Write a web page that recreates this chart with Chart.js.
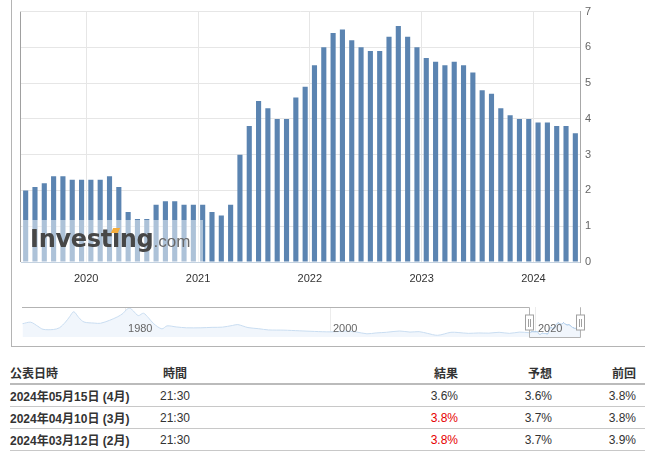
<!DOCTYPE html>
<html>
<head>
<meta charset="utf-8">
<script src="https://cdn.jsdelivr.net/npm/chart.js@4.4.1/dist/chart.umd.min.js"></script>
<style>
  body { margin: 0; background: #fff; font-family: "Liberation Sans", Arial, "Noto Sans CJK JP", sans-serif; color: #333; }
  #wrap { position: relative; width: 645px; height: 452px; overflow: hidden; }
  #frame { position: absolute; left: 11px; top: -2px; width: 700px; height: 348px; border-left: 1px solid #b4b4b4; border-bottom: 1px solid #b4b4b4; }
  #main { position: absolute; left: 0; top: 0; }
  #nav { position: absolute; left: 0; top: 300px; }
  #logo { position: absolute; left: 22px; top: 220px; width: 181px; height: 42px; background: rgba(255,255,255,0.5); }
  #logo .txt { position: absolute; left: 8px; top: 5px; white-space: nowrap; line-height: 28px; }
  #logo .big { font: bold 24px "DejaVu Sans"; color: #474747; letter-spacing: -0.3px; }
  #logo .com { font: 17px "Liberation Sans"; color: #6a6a6a; }
  #logo .dot { position: absolute; left: 90px; top: 8px; width: 7px; height: 5px; background: #f6ad3c; transform: skewX(-25deg); }
  #tbl { position: absolute; left: 10px; top: 361px; width: 635px; border-collapse: collapse; table-layout: fixed; font-size: 12px; }
  #tbl th { font-weight: bold; height: 22px; padding: 0; text-align: left; border-bottom: 2px solid #bbb; }
  #tbl th.t { padding-left: 3px; }
  #tbl td { height: 21px; padding: 0; border-bottom: 1px solid #c8c8c8; }
  #tbl .r { text-align: right; }
  #tbl .last { padding-right: 9px; }
  #tbl td.date { font-weight: bold; }
  #tbl .up { color: #e60000; }
</style>
</head>
<body>
<div id="wrap">
  <div id="frame"></div>
  <canvas id="main" width="645" height="290"></canvas>
  <div id="logo"><div class="txt"><span class="big">Investing</span><span class="com">.com</span></div><span class="dot"></span></div>
  <canvas id="nav" width="645" height="46"></canvas>
  <table id="tbl">
    <colgroup><col style="width:150px"><col style="width:150px"><col style="width:148px"><col style="width:94px"><col style="width:93px"></colgroup>
    <thead><tr><th>公表日時</th><th class="t">時間</th><th class="r">結果</th><th class="r">予想</th><th class="r last">前回</th></tr></thead>
    <tbody id="rows"></tbody>
  </table>
</div>
<script>
// release months (x categories), one row per release year
const releaseMonths = [
  "2019-06", "2019-07", "2019-08", "2019-09", "2019-10", "2019-11", "2019-12",
  "2020-01", "2020-02", "2020-03", "2020-04", "2020-05", "2020-06", "2020-07", "2020-08", "2020-09", "2020-10", "2020-11", "2020-12",
  "2021-01", "2021-02", "2021-03", "2021-04", "2021-05", "2021-06", "2021-07", "2021-08", "2021-09", "2021-10", "2021-11", "2021-12",
  "2022-01", "2022-02", "2022-03", "2022-04", "2022-05", "2022-06", "2022-07", "2022-08", "2022-09", "2022-10", "2022-11", "2022-12",
  "2023-01", "2023-02", "2023-03", "2023-04", "2023-05", "2023-06", "2023-07", "2023-08", "2023-09", "2023-10", "2023-11", "2023-12",
  "2024-01", "2024-02", "2024-03", "2024-04", "2024-05"
];
// core CPI y/y (%), same rows as above
const coreCpi = [
  2.0, 2.1, 2.2, 2.4, 2.4, 2.3, 2.3,
  2.3, 2.3, 2.4, 2.1, 1.4, 1.2, 1.2, 1.6, 1.7, 1.7, 1.6, 1.6,
  1.6, 1.4, 1.3, 1.6, 3.0, 3.8, 4.5, 4.3, 4.0, 4.0, 4.6, 4.9,
  5.5, 6.0, 6.4, 6.5, 6.2, 6.0, 5.9, 5.9, 6.3, 6.6, 6.3, 6.0,
  5.7, 5.6, 5.5, 5.6, 5.5, 5.3, 4.8, 4.7, 4.3, 4.1, 4.0, 4.0,
  3.9, 3.9, 3.8, 3.8, 3.6
];
const yearTicks = ["2020", "2021", "2022", "2023", "2024"];
const yTicks = [0, 1, 2, 3, 4, 5, 6, 7];

// navigator (long history)
const navYears = [
  1970.0, 1970.8, 1971.5, 1972.0, 1973.0, 1973.6, 1974.2, 1974.6, 1975.0, 1975.5, 1976.0, 1977.0, 1977.6,
  1978.5, 1979.3, 1979.8, 1980.2, 1980.5, 1980.8, 1981.3, 1981.8, 1982.3, 1982.8, 1983.6, 1984.1, 1985.0,
  1986.0, 1987.4, 1988.5, 1989.5, 1990.5, 1991.0, 1992.0, 1993.0, 1994.0, 1995.5, 1997.0, 1998.5, 2000.0,
  2001.5, 2002.5, 2003.6, 2004.5, 2005.5, 2006.8, 2007.8, 2008.7, 2009.5, 2010.5, 2011.8, 2012.5, 2013.5,
  2014.5, 2015.5, 2016.5, 2017.5, 2018.5
];
const navValues = [
  6.2, 6.9, 5.0, 3.6, 3.5, 4.3, 7.0, 9.5, 11.8, 9.0, 7.0, 6.5, 6.4,
  7.8, 9.5, 11.0, 13.0, 13.4, 12.2, 10.0, 11.1, 8.9, 6.2, 3.8, 5.2, 4.7,
  4.3, 4.3, 4.5, 4.6, 5.4, 5.8, 4.4, 3.9, 3.3, 3.2, 2.9, 2.6, 2.4,
  2.7, 2.4, 1.5, 1.9, 2.2, 2.8, 2.3, 2.5, 1.7, 0.8, 2.2, 2.1, 1.7,
  1.9, 1.8, 2.2, 1.7, 2.3
];
const navTickYears = [1980, 2000, 2020];
const navRange = [2019.44, 2024.38];

// table
const tblDates = ["2024年05月15日 (4月)", "2024年04月10日 (3月)", "2024年03月12日 (2月)"];
const tblTimes = ["21:30", "21:30", "21:30"];
const tblActual = [3.6, 3.8, 3.8];
const tblForecast = [3.6, 3.7, 3.7];
const tblPrevious = [3.8, 3.8, 3.9];

const rows = document.getElementById("rows");
tblDates.forEach((d, i) => {
  const tr = document.createElement("tr");
  const cls = tblActual[i] > tblForecast[i] ? "r up" : "r";
  tr.innerHTML = `<td class="date">${d}</td><td>${tblTimes[i]}</td>` +
    `<td class="${cls}">${tblActual[i].toFixed(1)}%</td>` +
    `<td class="r">${tblForecast[i].toFixed(1)}%</td>` +
    `<td class="r last">${tblPrevious[i].toFixed(1)}%</td>`;
  rows.appendChild(tr);
});

const isYearStart = i => {
  const m = releaseMonths[i];
  return m !== undefined && m.endsWith("-01") && yearTicks.includes(m.slice(0, 4));
};

new Chart(document.getElementById("main"), {
  type: "bar",
  data: {
    labels: releaseMonths,
    datasets: [{
      data: coreCpi,
      backgroundColor: "#5b84b1",
      barPercentage: 0.55,
      categoryPercentage: 1
    }]
  },
  options: {
    responsive: false,
    animation: false,
    layout: { padding: { left: 21, top: 7, right: 0, bottom: 0 } },
    plugins: { legend: { display: false }, tooltip: { enabled: false } },
    scales: {
      x: {
        grid: {
          offset: true,
          drawTicks: false,
          color: ctx => ctx.index === 0 ? "#a0a0a0" : (isYearStart(ctx.index) ? "#e6e6e6" : "rgba(0,0,0,0)")
        },
        border: { color: "#c4d2e0" },
        ticks: {
          autoSkip: false,
          maxRotation: 0,
          padding: 10,
          labelOffset: -4.66,
          color: "#333",
          font: { size: 11, family: "Liberation Sans" },
          callback: (v, i) => isYearStart(i) ? releaseMonths[i].slice(0, 4) : ""
        },
        afterFit: s => { s.height = 28; }
      },
      y: {
        position: "right",
        min: 0,
        max: 7,
        afterBuildTicks: s => { s.ticks = yTicks.map(v => ({ value: v })); },
        grid: {
          drawTicks: false,
          color: ctx => ctx.tick && ctx.tick.value === 0 ? "rgba(0,0,0,0)" : "#e6e6e6"
        },
        border: { color: "#a8a8a8" },
        ticks: { padding: 5, color: "#666", font: { size: 11, family: "Liberation Sans" } },
        afterFit: s => { s.width = 65; }
      }
    }
  }
});

// navigator points: history + the monthly tail shown in the main chart
const navAll = navYears.map((x, i) => ({ x, y: navValues[i] }));
const navTail = coreCpi.map((y, i) => ({ x: navRange[0] + 0.01 + i / 12, y }));
navAll.push(...navTail);

const navDecor = {
  id: "navDecor",
  afterDatasetsDraw(chart) {
    const ctx = chart.ctx;
    const a = chart.chartArea;
    const xs = chart.scales.x;
    const x1 = Math.round(xs.getPixelForValue(navRange[0])) + 0.5;
    const x2 = Math.round(xs.getPixelForValue(navRange[1])) + 0.5;
    const top = Math.round(a.top) + 0.5, bot = Math.round(a.bottom) + 0.5;
    ctx.save();
    ctx.strokeStyle = "#b3b3b3";
    ctx.lineWidth = 1;
    ctx.beginPath();
    ctx.moveTo(a.left, top);
    ctx.lineTo(x1, top);
    ctx.lineTo(x1, bot);
    ctx.lineTo(x2, bot);
    ctx.lineTo(x2, top);
    ctx.lineTo(a.right, top);
    ctx.stroke();

    ctx.font = "11px 'Liberation Sans'";
    ctx.fillStyle = "#666";
    ctx.textBaseline = "alphabetic";
    navTickYears.forEach(yr => {
      ctx.fillText(String(yr), xs.getPixelForValue(yr) + 3, a.bottom - 5);
    });

    const mid = Math.round((a.top + a.bottom) / 2);
    [x1, x2].forEach(x => {
      ctx.fillStyle = "#fff";
      ctx.strokeStyle = "#a0a0a0";
      ctx.fillRect(x - 4, mid - 7, 8, 15);
      ctx.strokeRect(x - 4, mid - 7, 8, 15);
      ctx.beginPath();
      ctx.moveTo(x - 1, mid - 3); ctx.lineTo(x - 1, mid + 5);
      ctx.moveTo(x + 1, mid - 3); ctx.lineTo(x + 1, mid + 5);
      ctx.stroke();
    });
    ctx.restore();
  }
};

new Chart(document.getElementById("nav"), {
  type: "line",
  data: {
    datasets: [
      {
        data: navAll,
        borderColor: "#c9ddf1",
        borderWidth: 1,
        backgroundColor: "#f1f6fc",
        fill: "origin",
        pointRadius: 0,
        tension: 0.3
      },
      {
        data: navTail,
        borderColor: "#3f82c6",
        borderWidth: 1,
        backgroundColor: "#cde0f6",
        fill: "origin",
        pointRadius: 0,
        tension: 0.3
      }
    ]
  },
  options: {
    responsive: false,
    animation: false,
    layout: { padding: { left: 22, right: 65, top: 7, bottom: 9 } },
    plugins: { legend: { display: false }, tooltip: { enabled: false } },
    scales: {
      x: {
        type: "linear",
        min: 1969.95,
        max: 2024.39,
        afterBuildTicks: s => { s.ticks = navTickYears.map(v => ({ value: v })); },
        grid: { color: "#ececec", drawTicks: false },
        border: { display: false },
        ticks: { display: false }
      },
      y: { display: false, min: 0, max: 14 }
    }
  },
  plugins: [navDecor]
});
</script>
</body>
</html>
